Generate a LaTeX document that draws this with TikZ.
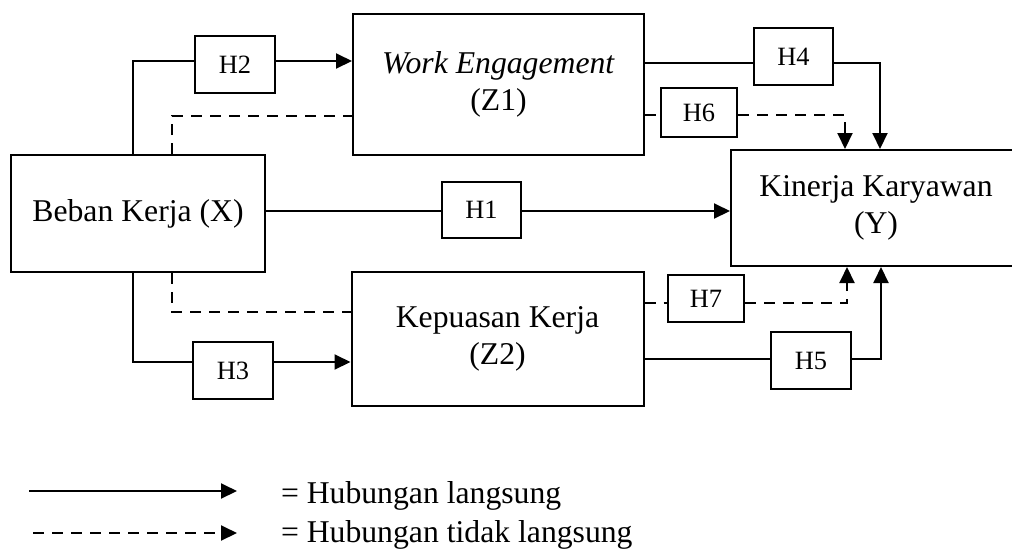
\documentclass[tikz,border=0pt]{standalone}
\usepackage{fontspec}
\setmainfont{Liberation Serif}
\usetikzlibrary{arrows.meta}
\begin{document}
\begin{tikzpicture}[x=1pt,y=-1pt,
  line width=2pt,
  bigbox/.style={draw,line width=2pt,inner sep=0pt,align=center,font=\fontsize{31.7}{37}\selectfont},
  hbox/.style={draw,line width=2pt,inner sep=0pt,font=\fontsize{26.4}{30}\selectfont},
  conn/.style={line width=2pt},
  arr/.style={conn,-{Triangle[length=16pt,width=15pt]}},
  dashconn/.style={conn,dash pattern=on 11pt off 8pt},
  darr/.style={dashconn,-{Triangle[length=16pt,width=15pt]}},
  legtext/.style={anchor=base west,inner sep=0pt,font=\fontsize{31.7}{37}\selectfont}]
\useasboundingbox (0,0) rectangle (1012,550);
\clip (0,0) rectangle (1012,550);
% main boxes
\node[bigbox,minimum width=254pt,minimum height=117pt] (X) at (138,213.5) {Beban Kerja (X)};
\node[bigbox,minimum width=291pt,minimum height=141pt] (Z1) at (498.5,84) {\textit{Work Engagement}\\(Z1)};
\node[bigbox,minimum width=292pt,minimum height=134pt] (Z2) at (497.5,339) {Kepuasan Kerja\\(Z2)};
\node[bigbox,minimum width=290pt,minimum height=116pt] (Y) at (876,208) {Kinerja Karyawan\\(Y)};
% hypothesis boxes
\node[hbox,minimum width=80pt,minimum height=57pt] (H2) at (235,64.5) {H2};
\node[hbox,minimum width=79pt,minimum height=57pt] (H4) at (793.5,56.5) {H4};
\node[hbox,minimum width=76pt,minimum height=49pt] (H6) at (699,112.5) {H6};
\node[hbox,minimum width=79pt,minimum height=56pt] (H1) at (481.5,210) {H1};
\node[hbox,minimum width=76pt,minimum height=47pt] (H7) at (706,298.5) {H7};
\node[hbox,minimum width=80pt,minimum height=57pt] (H3) at (233,370.5) {H3};
\node[hbox,minimum width=80pt,minimum height=57pt] (H5) at (811,360.5) {H5};
% routing coordinates
\coordinate (c2) at (133,61);
\coordinate (d1) at (172,116);
\coordinate (d1r) at (845,115);
\coordinate (c4) at (880,63);
\coordinate (c1) at (0,211);
\coordinate (d2) at (172,312);
\coordinate (d2r) at (847,303);
\coordinate (c3) at (133,362);
\coordinate (c5) at (881,359);
% H2
\draw[conn] (X.north -| c2) |- (H2.west |- c2);
\draw[arr] (H2.east |- c2) -- (Z1.west |- c2);
% dashed X -> Z1
\draw[dashconn] (X.north -| d1) |- (Z1.west |- d1);
% H4
\draw[conn] (Z1.east |- c4) -- (H4.west |- c4);
\draw[arr] (H4.east |- c4) -| (Y.north -| c4);
% H6
\draw[dashconn] (Z1.east |- d1r) -- (H6.west |- d1r);
\draw[darr] (H6.east |- d1r) -| (Y.north -| d1r);
% H1
\draw[conn] (X.east |- c1) -- (H1.west |- c1);
\draw[arr] (H1.east |- c1) -- (Y.west |- c1);
% dashed X -> Z2
\draw[dashconn] (X.south -| d2) |- (Z2.west |- d2);
% H7
\draw[dashconn] (Z2.east |- d2r) -- (H7.west |- d2r);
\draw[darr] (H7.east |- d2r) -| (Y.south -| d2r);
% H3
\draw[conn] (X.south -| c3) |- (H3.west |- c3);
\draw[arr] (H3.east |- c3) -- (Z2.west |- c3);
% H5
\draw[conn] (Z2.east |- c5) -- (H5.west |- c5);
\draw[arr] (H5.east |- c5) -| (Y.south -| c5);
% legend
\coordinate (l1a) at (29,491);
\coordinate (l1b) at (237,491);
\coordinate (l2a) at (33,533);
\coordinate (l2b) at (237,533);
\draw[arr] (l1a) -- (l1b);
\draw[darr] (l2a) -- (l2b);
\node[legtext] (t1) at (280,503) {= Hubungan langsung};
\node[legtext] (t2) at (280,542) {= Hubungan tidak langsung};
\end{tikzpicture}
\end{document}
